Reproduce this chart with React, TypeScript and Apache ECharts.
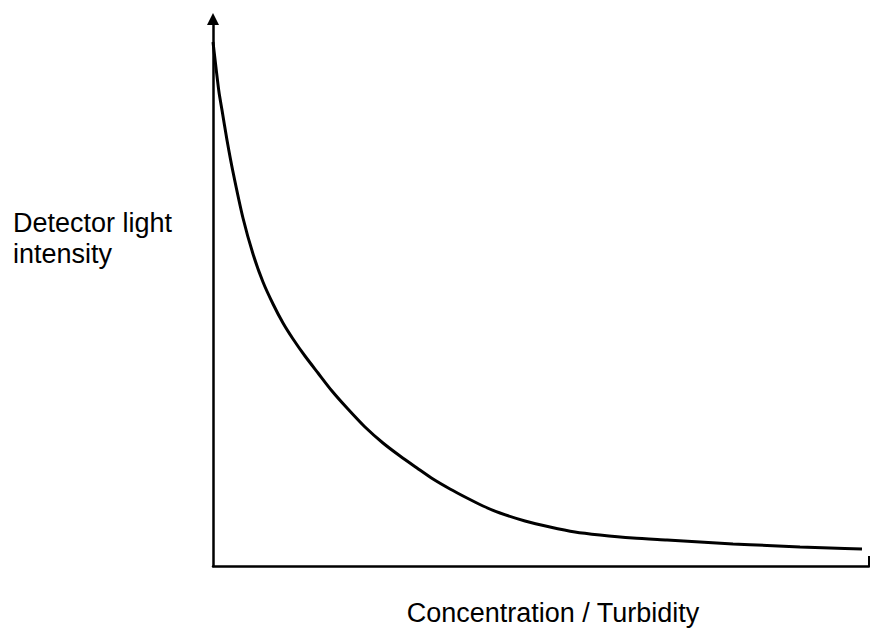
import React, { useEffect, useRef } from "react";
import * as echarts from "echarts";

const xValues = [0, 0.46, 0.91, 1.37, 2.13, 3.05, 4.57, 6.1, 7.62, 9.15, 10.67, 12.2, 14.02, 16.01, 18.14, 20.43, 23.17, 25.91, 28.51, 31.1, 33.54, 36.13, 38.72, 41.16, 43.75, 47.56, 51.37, 55.18, 58.99, 64.02, 69.21, 74.24, 79.27, 84.45, 89.48, 94.05, 98.93];
const yValues = [95.8, 91.04, 86.65, 83.36, 77.88, 72.03, 63.62, 57.04, 51.92, 47.9, 44.42, 41.5, 38.39, 35.28, 31.99, 28.88, 25.41, 22.49, 20.11, 17.92, 15.9, 14.08, 12.43, 10.97, 9.69, 8.23, 7.13, 6.22, 5.67, 5.12, 4.75, 4.39, 4.02, 3.75, 3.47, 3.29, 3.11];
const xTickValues = [100];
const xAxisName = "Concentration / Turbidity";
const yAxisLabel = "Detector light\nintensity";

export default function App() {
  const ref = useRef<HTMLDivElement>(null);
  useEffect(() => {
    if (!ref.current) return;
    const chart = echarts.init(ref.current, null, { renderer: "svg" });
    const font = "'Liberation Sans', Arial, sans-serif";
    chart.setOption({
      animation: false,
      backgroundColor: "#ffffff",
      grid: { left: 213, right: 1, top: 19, bottom: 64 },
      xAxis: {
        type: "value",
        min: 0,
        max: 100,
        interval: 50,
        axisLine: { lineStyle: { color: "#000", width: 2.5 } },
        axisTick: {
          show: true,
          inside: true,
          length: 10,
          customValues: xTickValues,
          lineStyle: { color: "#000", width: 2 },
        },
        axisLabel: { show: false },
        splitLine: { show: false },
      },
      yAxis: {
        type: "value",
        min: 0,
        max: 100,
        interval: 100,
        axisLine: {
          show: true,
          symbol: ["none", "triangle"],
          symbolSize: [12, 12],
          lineStyle: { color: "#000", width: 2.5 },
        },
        axisTick: { show: false },
        axisLabel: { show: false },
        splitLine: { show: false },
      },
      graphic: [
        {
          type: "text",
          x: 13,
          y: 207,
          style: {
            text: yAxisLabel,
            fill: "#000",
            font: `27px ${font}`,
            lineHeight: 31,
            align: "left",
            verticalAlign: "top",
          },
        },
        {
          type: "text",
          x: 553,
          y: 613,
          style: {
            text: xAxisName,
            fill: "#000",
            font: `27px ${font}`,
            align: "center",
            verticalAlign: "middle",
          },
        },
      ],
      series: [
        {
          type: "line",
          data: xValues.map((x, i) => [x, yValues[i]]),
          smooth: 0.25,
          showSymbol: false,
          lineStyle: { color: "#000", width: 3 },
        },
      ],
    });
    return () => chart.dispose();
  }, []);
  return (
    <div
      ref={ref}
      style={{ position: "absolute", left: 0, top: 0, width: 870, height: 630, background: "#fff" }}
    />
  );
}
